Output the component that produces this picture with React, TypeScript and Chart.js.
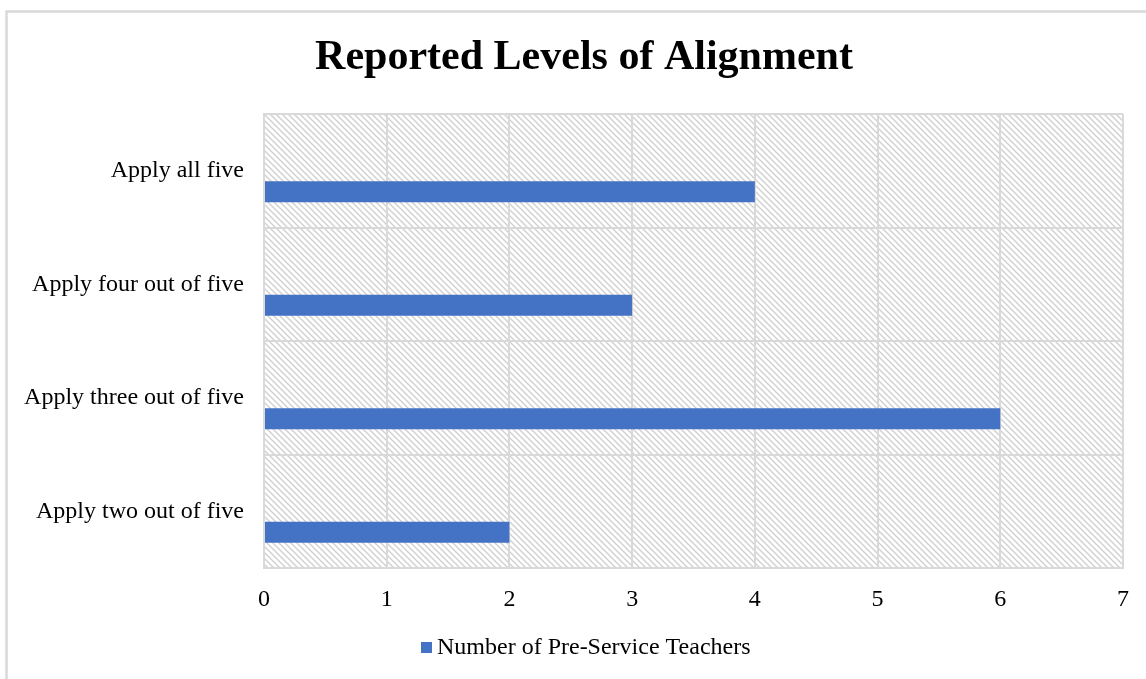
import React, { useEffect, useRef } from "react";
import { Chart, registerables } from "chart.js";

Chart.register(...registerables);

const categories = [
  "Apply all five",
  "Apply four out of five",
  "Apply three out of five",
  "Apply two out of five",
];
const teacherCounts = [4, 3, 6, 2];
const seriesName = "Number of Pre-Service Teachers";
const titleText = "Reported Levels of Alignment";
const xMin = 0;
const xMax = 7;

const serif = "'Liberation Serif', 'Times New Roman', serif";
const barColor = "#4472C4";

function makePattern(): CanvasPattern | string {
  const c = document.createElement("canvas");
  const s = 6;
  c.width = s;
  c.height = s;
  const g = c.getContext("2d");
  if (!g) return "#f2f2f2";
  g.fillStyle = "#ffffff";
  g.fillRect(0, 0, s, s);
  g.strokeStyle = "#d0d0d0";
  g.lineWidth = 1.4;
  g.beginPath();
  g.moveTo(-1, -1);
  g.lineTo(s + 1, s + 1);
  g.moveTo(-1 - s, -1);
  g.lineTo(1, s + 1);
  g.moveTo(s - 1, -1);
  g.lineTo(2 * s + 1, s + 1);
  g.stroke();
  const p = g.createPattern(c, "repeat");
  return p || "#f2f2f2";
}

const backgroundPlugin = {
  id: "bgHatch",
  beforeDraw(chart: any) {
    const { ctx, chartArea, width, height } = chart;
    ctx.save();
    ctx.fillStyle = "#ffffff";
    ctx.fillRect(0, 0, width, height);
    ctx.strokeStyle = "#d9d9d9";
    ctx.lineWidth = 2.5;
    ctx.beginPath();
    ctx.moveTo(6.5, height + 5);
    ctx.lineTo(6.5, 11.5);
    ctx.lineTo(width + 5, 11.5);
    ctx.stroke();
    ctx.fillStyle = makePattern();
    ctx.fillRect(
      chartArea.left,
      chartArea.top,
      chartArea.right - chartArea.left,
      chartArea.bottom - chartArea.top
    );
    ctx.restore();
  },
  afterDraw(chart: any) {
    const { ctx } = chart;
    ctx.save();
    // Title
    ctx.fillStyle = "#000000";
    ctx.font = `bold 42px ${serif}`;
    ctx.textAlign = "center";
    ctx.textBaseline = "middle";
    ctx.fillText(titleText, 584, 58);
    // Legend
    const ds = chart.data.datasets.find((d: any) => d.label === seriesName);
    ctx.fillStyle = ds ? ds.backgroundColor : barColor;
    ctx.fillRect(421, 642, 11, 11);
    ctx.fillStyle = "#000000";
    ctx.font = `24px ${serif}`;
    ctx.textAlign = "left";
    ctx.textBaseline = "middle";
    ctx.fillText(seriesName, 437, 648);
    ctx.restore();
  },
};

export default function App() {
  const ref = useRef<HTMLCanvasElement | null>(null);
  useEffect(() => {
    if (!ref.current) return;
    const spacer = () => ({
      label: "_spacer",
      data: categories.map(() => null),
      backgroundColor: "rgba(0,0,0,0)",
    });
    const chart = new Chart(ref.current, {
      type: "bar",
      data: {
        labels: categories,
        datasets: [
          spacer(),
          spacer(),
          {
            label: seriesName,
            data: teacherCounts,
            backgroundColor: barColor,
            borderWidth: 0,
          },
        ],
      },
      options: {
        indexAxis: "y",
        responsive: false,
        animation: false,
        layout: { padding: { left: 0, right: 22, top: 114, bottom: 56 } },
        datasets: {
          bar: { barPercentage: 1, categoryPercentage: 0.555 },
        },
        plugins: {
          title: { display: false },
          legend: { display: false },
          tooltip: { enabled: false },
        },
        scales: {
          x: {
            min: xMin,
            max: xMax,
            ticks: {
              stepSize: 1,
              color: "#000000",
              padding: 17,
              font: { family: serif, size: 24 },
            },
            grid: { color: "#d9d9d9", lineWidth: 2, drawTicks: false },
            border: { color: "#d9d9d9", width: 2 },
            afterFit: (scale: any) => {
              scale.height = 55;
            },
          },
          y: {
            ticks: {
              color: "#000000",
              padding: 20,
              font: { family: serif, size: 24 },
            },
            grid: { color: "#d9d9d9", lineWidth: 2, drawTicks: false, offset: true },
            border: { color: "#d9d9d9", width: 2 },
            afterFit: (scale: any) => {
              scale.width = 264;
            },
          },
        },
      },
      plugins: [backgroundPlugin],
    } as any);
    return () => chart.destroy();
  }, []);
  return (
    <div style={{ position: "fixed", left: 0, top: 0, width: 1146, height: 679, background: "#fff" }}>
      <canvas ref={ref} width={1146} height={679} />
    </div>
  );
}
